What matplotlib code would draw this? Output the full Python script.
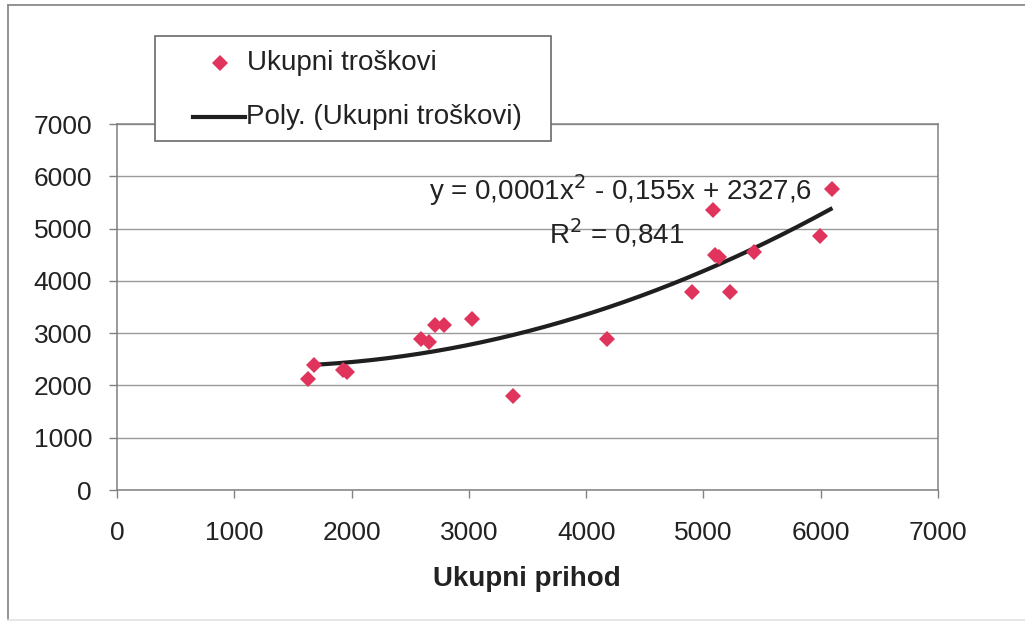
import numpy as np
import matplotlib
matplotlib.use("Agg")
import matplotlib.pyplot as plt
from matplotlib.patches import Rectangle
from matplotlib.lines import Line2D

plt.rcParams['font.family'] = ['Liberation Sans', 'DejaVu Sans']

# Total revenue (x) and total costs (y)
prihod = [1630, 1680, 1930, 1960, 2590, 2660, 2710, 2790, 3030, 3380,
          4180, 4900, 5080, 5100, 5130, 5230, 5430, 5990, 6100]
troskovi = [2120, 2400, 2300, 2250, 2880, 2830, 3160, 3160, 3270, 1800,
            2890, 3790, 5360, 4490, 4460, 3790, 4560, 4860, 5760]

x_ticks = [0, 1000, 2000, 3000, 4000, 5000, 6000, 7000]
y_ticks = [0, 1000, 2000, 3000, 4000, 5000, 6000, 7000]

series_label = "Ukupni troškovi"
trend_label = "Poly. (Ukupni troškovi)"
x_label = "Ukupni prihod"
eq_text = "y = 0,0001x$^2$ - 0,155x + 2327,6"
r2_text = "R$^2$ = 0,841"

W, H = 1025, 622
fig = plt.figure(figsize=(W / 100, H / 100), dpi=100)

def fx(px):
    return px / W

def fy(py):
    return 1 - py / H

# outer chart border (top and left edges clearly, bottom faint)
fig.lines.append(Line2D([fx(8), fx(8)], [fy(5), fy(620)], transform=fig.transFigure,
                        color='#8a8a8a', linewidth=1.3))
fig.lines.append(Line2D([fx(8), fx(1025)], [fy(5), fy(5)], transform=fig.transFigure,
                        color='#8a8a8a', linewidth=1.3))
fig.lines.append(Line2D([fx(8), fx(1025)], [fy(620), fy(620)], transform=fig.transFigure,
                        color='#e4e4e4', linewidth=1.3))

L, R, T, B = 117, 938, 124, 490
ax = fig.add_axes([fx(L), fy(B), (R - L) / W, (B - T) / H])

frame_c = '#808080'
for s in ax.spines.values():
    s.set_color(frame_c)
    s.set_linewidth(1.1)

ax.set_xlim(0, 7000)
ax.set_ylim(0, 7000)
ax.set_xticks(x_ticks)
ax.set_yticks(y_ticks)
ax.set_xticklabels([str(v) for v in x_ticks])
ax.set_yticklabels([str(v) for v in y_ticks])
ax.tick_params(axis='both', direction='out', length=6, width=1.0,
               color=frame_c, labelsize=19, labelcolor='#222222')
ax.tick_params(axis='x', pad=16)
ax.tick_params(axis='y', pad=12)
ax.yaxis.grid(True, color='#9a9a9a', linewidth=1.0)
ax.set_axisbelow(True)

# quadratic trendline fitted to the data
coef = np.polyfit(prihod, troskovi, 2)
xs = np.linspace(min(prihod), max(prihod), 200)
ax.plot(xs, np.polyval(coef, xs), color='#1f1f1f', linewidth=3.0,
        solid_capstyle='butt', zorder=3)

ax.plot(prihod, troskovi, linestyle='none', marker='D', markersize=8,
        color='#e0345c', markeredgewidth=0, zorder=4)

fig.text(fx(812), fy(190), eq_text, ha='right', va='center',
         fontsize=20, color='#222222', zorder=6)
fig.text(fx(684), fy(233), r2_text, ha='right', va='center',
         fontsize=20, color='#222222', zorder=6)

fig.text(fx(527), fy(579), x_label, ha='center', va='center',
         fontsize=20, fontweight='bold', color='#222222')

# legend box
lg_l, lg_t, lg_r, lg_b = 155, 36, 551, 141
fig.patches.append(Rectangle((fx(lg_l), fy(lg_b)), (lg_r - lg_l) / W, (lg_b - lg_t) / H,
                             transform=fig.transFigure, facecolor='white',
                             edgecolor='#6a6a6a', linewidth=1.2, zorder=5))
fig.lines.append(Line2D([fx(220)], [fy(63)], transform=fig.transFigure,
                        marker='D', markersize=8, color='#e0345c',
                        markeredgewidth=0, linestyle='none', zorder=6))
fig.text(fx(247), fy(63), series_label, ha='left', va='center',
         fontsize=20, color='#222222', zorder=6)
fig.lines.append(Line2D([fx(193), fx(245)], [fy(117), fy(117)],
                        transform=fig.transFigure, color='#1f1f1f',
                        linewidth=3.0, zorder=6))
fig.text(fx(246), fy(117), trend_label, ha='left', va='center',
         fontsize=20, color='#222222', zorder=6)

fig.savefig("out.png", dpi=100, facecolor='white')
